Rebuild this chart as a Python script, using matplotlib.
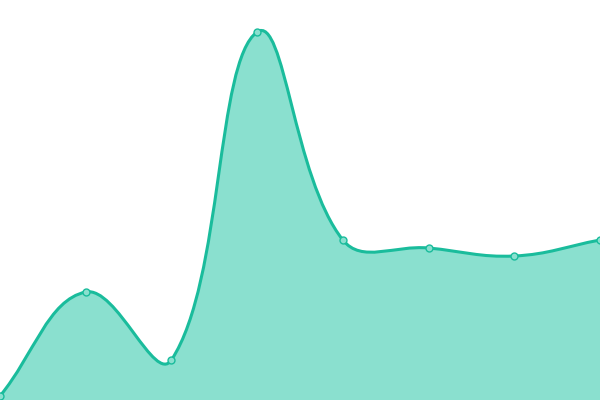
import numpy as np
import matplotlib
matplotlib.use('Agg')
import matplotlib.pyplot as plt
from matplotlib.path import Path
from matplotlib.patches import PathPatch

labels = ['1', '2', '3', '4', '5', '6', '7', '8']
values = [1, 27, 10, 92, 40, 38, 36, 40]

line_color = '#1abc9c'
fill_color = '#8ae0cf'
tension = 0.4


def spline_controls(pts, t):
    # cardinal-style control points (like chart.js tension curves)
    n = len(pts)
    prev_cp = [None] * n
    next_cp = [None] * n
    for i in range(n):
        p0 = pts[max(i - 1, 0)]
        p1 = pts[i]
        p2 = pts[min(i + 1, n - 1)]
        d01 = np.hypot(*(p1 - p0))
        d12 = np.hypot(*(p2 - p1))
        s = d01 + d12
        fa = t * d01 / s if s else 0
        fb = t * d12 / s if s else 0
        prev_cp[i] = p1 - fa * (p2 - p0)
        next_cp[i] = p1 + fb * (p2 - p0)
    return prev_cp, next_cp


fig = plt.figure(figsize=(6, 4), dpi=100)
ax = fig.add_axes([0, 0, 1, 1])
ax.set_xlim(0, len(values) - 1)
ax.set_ylim(0, 100)
ax.axis('off')

x = np.arange(len(values))
data_pts = np.column_stack([x, values]).astype(float)
pix = ax.transData.transform(data_pts)
prev_cp, next_cp = spline_controls(pix, tension)

# build path in pixel space, then back to data coords
inv = ax.transData.inverted()
verts = [pix[0]]
codes = [Path.MOVETO]
for i in range(len(pix) - 1):
    verts += [next_cp[i], prev_cp[i + 1], pix[i + 1]]
    codes += [Path.CURVE4] * 3
verts = inv.transform(np.array(verts))

line_path = Path(verts, codes)
fill_verts = np.vstack([verts, [[x[-1], 0], [x[0], 0], verts[0]]])
fill_codes = codes + [Path.LINETO, Path.LINETO, Path.CLOSEPOLY]
fill_path = Path(fill_verts, fill_codes)

ax.add_patch(PathPatch(fill_path, facecolor=fill_color, edgecolor='none', zorder=1))
ax.add_patch(PathPatch(line_path, facecolor='none', edgecolor=line_color, lw=2.2, zorder=2))
ax.plot(x, values, 'o', ms=5, mfc=fill_color, mec=line_color, mew=1, zorder=3, clip_on=False)

fig.savefig('out.png', dpi=100)
